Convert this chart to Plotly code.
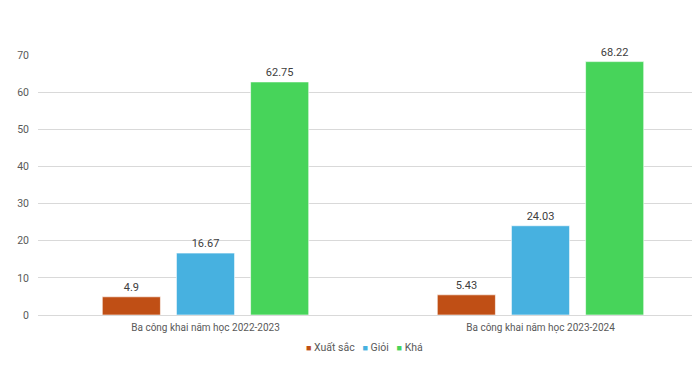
import plotly.graph_objects as go

categories = ["Ba công khai năm học 2022-2023", "Ba công khai năm học 2023-2024"]
series_names = ["Xuất sắc", "Giỏi", "Khá"]
xuat_sac = [4.9, 5.43]
gioi = [16.67, 24.03]
kha = [62.75, 68.22]
colors = ["#C04F15", "#47B1E0", "#47D45A"]
y_ticks = [0, 10, 20, 30, 40, 50, 60, 70]

FONT = "Roboto, Liberation Sans, Arial, sans-serif"

fig = go.Figure()
for name, vals, col in zip(series_names, [xuat_sac, gioi, kha], colors):
    fig.add_trace(go.Bar(
        name=name, x=categories, y=vals,
        marker=dict(color=col, line=dict(color="rgba(255,255,255,0.6)", width=1)),
        text=[f"{v:g}" for v in vals], textposition="outside",
        textfont=dict(size=11, color="#404040"), cliponaxis=False,
    ))

legend_text = "   ".join(
    f"<span style='color:{c}; font-size:9px'>■</span> {n}" for n, c in zip(series_names, colors)
)
fig.add_annotation(text=legend_text, xref="paper", yref="paper", x=0.488, y=-0.093,
                   xanchor="center", yanchor="top", showarrow=False,
                   font=dict(family=FONT, size=10.5, color="#595959"))

fig.update_layout(
    width=700, height=378,
    margin=dict(l=30, r=0, t=47, b=71),
    paper_bgcolor="white", plot_bgcolor="white",
    barmode="group", bargap=0.336, bargroupgap=0.216,
    font=dict(family=FONT, size=10.5, color="#595959"),
    showlegend=False,
)
fig.update_xaxes(range=[-0.5, 1.5], showgrid=False, showline=False, ticks="",
                 automargin=False, ticklabelstandoff=5,
                 tickfont=dict(size=10, color="#595959"))
fig.update_yaxes(range=[0, 70], tickvals=y_ticks, showgrid=True, gridcolor="#D9D9D9",
                 gridwidth=1, zeroline=True, zerolinecolor="#D9D9D9", zerolinewidth=1,
                 showline=False, ticks="", ticklabelstandoff=8, automargin=False,
                 tickfont=dict(size=10.5, color="#595959"))

fig.write_html("out.html")
